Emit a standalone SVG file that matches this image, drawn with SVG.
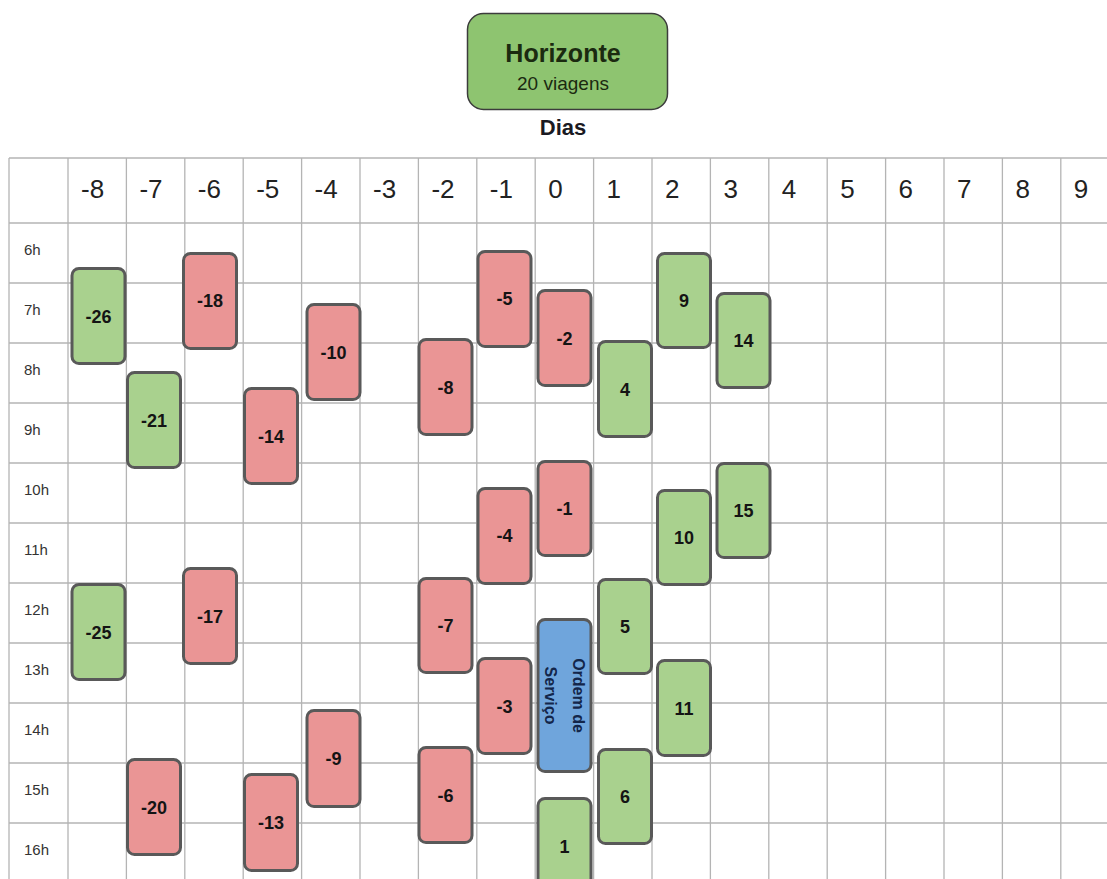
<svg xmlns="http://www.w3.org/2000/svg" width="1107" height="879" viewBox="0 0 1107 879">
<style>
.grid line{stroke:#b4b4b4;stroke-width:1.3}
.hdr{font-family:"Liberation Sans",Arial,sans-serif;font-size:26px;fill:#222}
.row{font-family:"Liberation Sans",Arial,sans-serif;font-size:15px;fill:#333}
.box rect{stroke:#595959;stroke-width:3}
.g rect{fill:#a9d18e}
.r rect{fill:#ea9595}
.b rect{fill:#6fa5dc}
.box text{font-family:"Liberation Sans",Arial,sans-serif;font-size:18px;font-weight:bold;fill:#141414;text-anchor:middle}
.b text{fill:#13264a;font-size:16px}
</style>
<rect x="0" y="0" width="1107" height="879" fill="#fff"/>
<g id="horizonte">
<rect x="467.5" y="13.5" width="200" height="96" rx="16" fill="#8ec470" stroke="#3c3c3c" stroke-width="1.5"/>
<text x="563" y="62" font-family="Liberation Sans,Arial,sans-serif" font-size="25" font-weight="bold" fill="#1b2a10" text-anchor="middle">Horizonte</text>
<text x="563" y="90" font-family="Liberation Sans,Arial,sans-serif" font-size="19" fill="#1b2a10" text-anchor="middle">20 viagens</text>
</g>
<text x="563" y="135" font-family="Liberation Sans,Arial,sans-serif" font-size="22" font-weight="bold" fill="#1a1a22" text-anchor="middle">Dias</text>
<g class="grid">
<line x1="9" y1="158" x2="1107" y2="158"/>
<line x1="9" y1="223" x2="1107" y2="223"/>
<line x1="9" y1="283" x2="1107" y2="283"/>
<line x1="9" y1="343" x2="1107" y2="343"/>
<line x1="9" y1="403" x2="1107" y2="403"/>
<line x1="9" y1="463" x2="1107" y2="463"/>
<line x1="9" y1="523" x2="1107" y2="523"/>
<line x1="9" y1="583" x2="1107" y2="583"/>
<line x1="9" y1="643" x2="1107" y2="643"/>
<line x1="9" y1="703" x2="1107" y2="703"/>
<line x1="9" y1="763" x2="1107" y2="763"/>
<line x1="9" y1="823" x2="1107" y2="823"/>
<line x1="9" y1="158" x2="9" y2="879"/>
<line x1="68" y1="158" x2="68" y2="879"/>
<line x1="126.4" y1="158" x2="126.4" y2="879"/>
<line x1="184.8" y1="158" x2="184.8" y2="879"/>
<line x1="243.2" y1="158" x2="243.2" y2="879"/>
<line x1="301.6" y1="158" x2="301.6" y2="879"/>
<line x1="360" y1="158" x2="360" y2="879"/>
<line x1="418.4" y1="158" x2="418.4" y2="879"/>
<line x1="476.8" y1="158" x2="476.8" y2="879"/>
<line x1="535.2" y1="158" x2="535.2" y2="879"/>
<line x1="593.6" y1="158" x2="593.6" y2="879"/>
<line x1="652" y1="158" x2="652" y2="879"/>
<line x1="710.4" y1="158" x2="710.4" y2="879"/>
<line x1="768.8" y1="158" x2="768.8" y2="879"/>
<line x1="827.2" y1="158" x2="827.2" y2="879"/>
<line x1="885.6" y1="158" x2="885.6" y2="879"/>
<line x1="944" y1="158" x2="944" y2="879"/>
<line x1="1002.4" y1="158" x2="1002.4" y2="879"/>
<line x1="1060.8" y1="158" x2="1060.8" y2="879"/>
</g>
<g id="day-headers" class="hdr">
<text x="81" y="198">-8</text>
<text x="139.4" y="198">-7</text>
<text x="197.8" y="198">-6</text>
<text x="256.2" y="198">-5</text>
<text x="314.6" y="198">-4</text>
<text x="373" y="198">-3</text>
<text x="431.4" y="198">-2</text>
<text x="489.8" y="198">-1</text>
<text x="548.2" y="198">0</text>
<text x="606.6" y="198">1</text>
<text x="665" y="198">2</text>
<text x="723.4" y="198">3</text>
<text x="781.8" y="198">4</text>
<text x="840.2" y="198">5</text>
<text x="898.6" y="198">6</text>
<text x="957" y="198">7</text>
<text x="1015.4" y="198">8</text>
<text x="1073.8" y="198">9</text>
</g>
<g id="hour-labels" class="row">
<text x="24" y="255">6h</text>
<text x="24" y="315">7h</text>
<text x="24" y="375">8h</text>
<text x="24" y="435">9h</text>
<text x="24" y="495">10h</text>
<text x="24" y="555">11h</text>
<text x="24" y="615">12h</text>
<text x="24" y="675">13h</text>
<text x="24" y="735">14h</text>
<text x="24" y="795">15h</text>
<text x="24" y="855">16h</text>
</g>
<g id="connectors"/>
<g id="n-26" class="box g"><rect x="72" y="268.5" width="53" height="95" rx="7"/><text x="98.5" y="322.5">-26</text></g>
<g id="n-18" class="box r"><rect x="183.5" y="253.5" width="53" height="95" rx="7"/><text x="210" y="307">-18</text></g>
<g id="n-10" class="box r"><rect x="307" y="304.5" width="53" height="95" rx="7"/><text x="333.5" y="358.5">-10</text></g>
<g id="n-21" class="box g"><rect x="127.5" y="372.5" width="53" height="95" rx="7"/><text x="154" y="426.5">-21</text></g>
<g id="n-14" class="box r"><rect x="244.5" y="388.5" width="53" height="95" rx="7"/><text x="271" y="442.5">-14</text></g>
<g id="n-5" class="box r"><rect x="478" y="251.5" width="53" height="95" rx="7"/><text x="504.5" y="305">-5</text></g>
<g id="n-2" class="box r"><rect x="538" y="290.5" width="53" height="95" rx="7"/><text x="564.5" y="344.5">-2</text></g>
<g id="n9" class="box g"><rect x="657.5" y="253.5" width="53" height="94" rx="7"/><text x="684" y="306.5">9</text></g>
<g id="n14" class="box g"><rect x="717" y="293.5" width="53" height="94" rx="7"/><text x="743.5" y="347">14</text></g>
<g id="n-8" class="box r"><rect x="419" y="339.5" width="53" height="95" rx="7"/><text x="445.5" y="394">-8</text></g>
<g id="n4" class="box g"><rect x="598.5" y="341.5" width="53" height="95" rx="7"/><text x="625" y="395.5">4</text></g>
<g id="n-1" class="box r"><rect x="538" y="461.5" width="53" height="94" rx="7"/><text x="564.5" y="514.5">-1</text></g>
<g id="n-4" class="box r"><rect x="478" y="488.5" width="53" height="95" rx="7"/><text x="504.5" y="542">-4</text></g>
<g id="n10" class="box g"><rect x="657.5" y="490.5" width="53" height="94" rx="7"/><text x="684" y="544">10</text></g>
<g id="n15" class="box g"><rect x="717" y="463.5" width="53" height="94" rx="7"/><text x="743.5" y="516.5">15</text></g>
<g id="n-7" class="box r"><rect x="419" y="578.5" width="53" height="94" rx="7"/><text x="445.5" y="631.5">-7</text></g>
<g id="n5" class="box g"><rect x="598.5" y="579.5" width="53" height="94" rx="7"/><text x="625" y="633">5</text></g>
<g id="n-3" class="box r"><rect x="478" y="658.5" width="53" height="95" rx="7"/><text x="504.5" y="712.5">-3</text></g>
<g id="n11" class="box g"><rect x="657.5" y="660.5" width="53" height="95" rx="7"/><text x="684" y="714.5">11</text></g>
<g id="n-6" class="box r"><rect x="419" y="747.5" width="53" height="95" rx="7"/><text x="445.5" y="801.5">-6</text></g>
<g id="n6" class="box g"><rect x="598.5" y="749.5" width="53" height="94" rx="7"/><text x="625" y="803">6</text></g>
<g id="n1" class="box g"><rect x="538" y="798.5" width="53" height="95" rx="7"/><text x="564.5" y="852.5">1</text></g>
<g id="n-25" class="box g"><rect x="72" y="584.5" width="53" height="95" rx="7"/><text x="98.5" y="638.5">-25</text></g>
<g id="n-17" class="box r"><rect x="183.5" y="568.5" width="53" height="95" rx="7"/><text x="210" y="622.5">-17</text></g>
<g id="n-9" class="box r"><rect x="307" y="710.5" width="53" height="96" rx="7"/><text x="333.5" y="765">-9</text></g>
<g id="n-20" class="box r"><rect x="127.5" y="759.5" width="53" height="95" rx="7"/><text x="154" y="813.5">-20</text></g>
<g id="n-13" class="box r"><rect x="244.5" y="774.5" width="53" height="96" rx="7"/><text x="271" y="829">-13</text></g>
<g id="ordem" class="box b"><rect x="538" y="619.5" width="53" height="152" rx="7"/>
<text transform="translate(564.5 695.5) rotate(90)"><tspan x="0" y="-8.4">Ordem de</tspan><tspan x="0" y="19.6">Serviço</tspan></text></g>
</svg>
